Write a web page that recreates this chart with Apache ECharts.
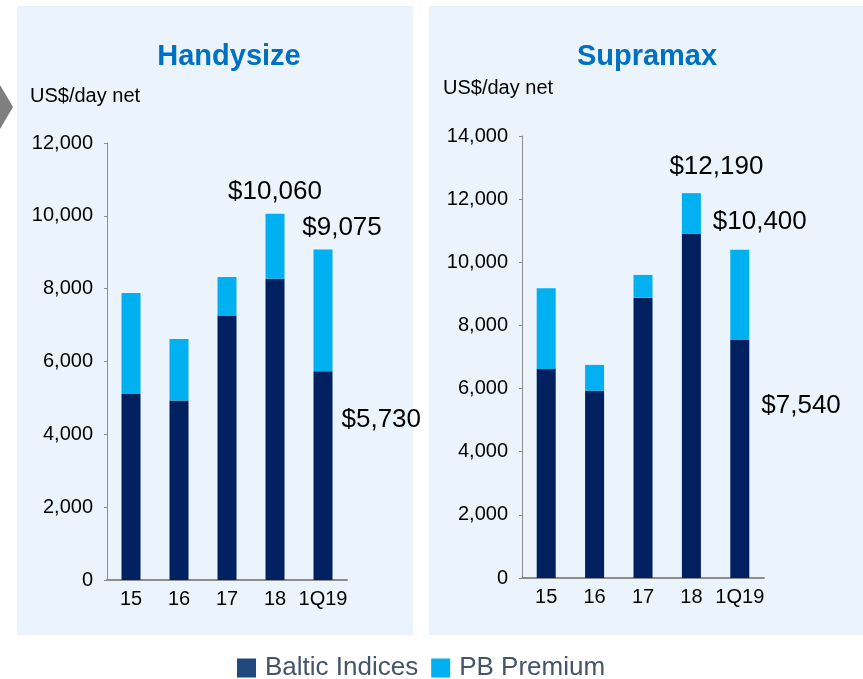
<!DOCTYPE html>
<html>
<head>
<meta charset="utf-8">
<script src="https://cdn.jsdelivr.net/npm/echarts@6/dist/echarts.min.js"></script>
<style>
    html, body { margin: 0; padding: 0; background: #fff; }
    #chart { width: 863px; height: 679px; }
</style>
</head>
<body>
<div id="chart"></div>
<script>
// values (US$/day net)
var categories = ['15', '16', '17', '18', '1Q19'];
var handyBaltic = [5110, 4930, 7250, 8270, 5730];
var handyPremium = [2770, 1690, 1070, 1790, 3345];
var handyTotal = [7880, 6620, 8320, 10060, 9075];
var supraBaltic = [6620, 5930, 8880, 10900, 7540];
var supraPremium = [2560, 820, 720, 1290, 2860];
var supraTotal = [9180, 6750, 9600, 12190, 10400];
var handyTicks = [0, 12000, 2000];
var supraTicks = [0, 14000, 2000];

var FONT = 'Liberation Sans, Arial, sans-serif';
var NAVY = '#002060';
var CYAN = '#00B0F0';

function money(v) {
    return '$' + v.toLocaleString('en-US');
}

// attach a value label to some bars of a series
function withLabels(values, labelled) {
    return values.map(function (v, i) {
        var cfg = labelled[i];
        if (!cfg) return v;
        return {
            value: v,
            label: Object.assign({
                show: true,
                formatter: cfg.text,
                fontSize: 26,
                color: '#000',
                fontFamily: FONT
            }, cfg.style)
        };
    });
}

function yAxis(idx, ticks, pad) {
    return {
        type: 'value',
        gridIndex: idx,
        min: ticks[0],
        max: ticks[1],
        interval: ticks[2],
        splitLine: { show: false },
        axisLine: { show: true, lineStyle: { color: '#8c8c8c', width: 1 } },
        axisTick: { show: true, length: 3, lineStyle: { color: '#8c8c8c' } },
        axisLabel: {
            fontSize: 20,
            color: '#000',
            fontFamily: FONT,
            margin: 14,
            padding: [0, 0, pad, 0],
            formatter: function (v) { return v.toLocaleString('en-US'); }
        }
    };
}

function xAxis(idx) {
    return {
        type: 'category',
        gridIndex: idx,
        data: categories,
        axisLine: { lineStyle: { color: '#8c8c8c', width: 2 } },
        axisTick: { show: false },
        axisLabel: { interval: 0, fontSize: 20, color: '#000', fontFamily: FONT, margin: 9 }
    };
}

var chart = echarts.init(document.getElementById('chart'));
chart.setOption({
    animation: false,
    backgroundColor: '#fff',
    graphic: [
        { type: 'rect', z: -10, shape: { x: 17, y: 6, width: 396, height: 629 }, style: { fill: '#EBF4FD' } },
        { type: 'rect', z: -10, shape: { x: 429, y: 6, width: 434, height: 629 }, style: { fill: '#EBF4FD' } },
        { type: 'polygon', z: -10, shape: { points: [[0, 85], [13, 107], [0, 129]] }, style: { fill: '#7f7f7f' } }
    ],
    title: [
        { text: 'Handysize', left: 229, top: 42, textAlign: 'center', padding: 0,
          textStyle: { fontSize: 29, fontWeight: 'bold', color: '#0070C0', fontFamily: FONT } },
        { text: 'Supramax', left: 647, top: 42, textAlign: 'center', padding: 0,
          textStyle: { fontSize: 29, fontWeight: 'bold', color: '#0070C0', fontFamily: FONT } },
        { text: 'US$/day net', left: 30, top: 86, padding: 0,
          textStyle: { fontSize: 20, fontWeight: 'normal', color: '#000', fontFamily: FONT } },
        { text: 'US$/day net', left: 443, top: 78, padding: 0,
          textStyle: { fontSize: 20, fontWeight: 'normal', color: '#000', fontFamily: FONT } }
    ],
    legend: {
        left: 237,
        top: 655,
        padding: 0,
        itemWidth: 19,
        itemHeight: 19,
        itemGap: 13,
        icon: 'rect',
        textStyle: { fontSize: 26, color: '#44546A', fontFamily: FONT, padding: [0, 0, 0, 4] },
        data: [
            { name: 'Baltic Indices', itemStyle: { color: '#1F497D' } },
            { name: 'PB Premium', itemStyle: { color: CYAN } }
        ]
    },
    grid: [
        { left: 107, top: 143, width: 240, height: 437 },
        { left: 522, top: 136, width: 242, height: 442 }
    ],
    xAxis: [xAxis(0), xAxis(1)],
    yAxis: [yAxis(0, handyTicks, 8), yAxis(1, supraTicks, 15)],
    series: [
        {
            name: 'Baltic Indices', type: 'bar', stack: 'h', xAxisIndex: 0, yAxisIndex: 0,
            barWidth: 19, itemStyle: { color: NAVY },
            data: withLabels(handyBaltic, {
                4: { text: money(handyBaltic[4]), style: { position: [28, 48], align: 'left', verticalAlign: 'middle' } }
            })
        },
        {
            name: 'PB Premium', type: 'bar', stack: 'h', xAxisIndex: 0, yAxisIndex: 0,
            barWidth: 19, itemStyle: { color: CYAN },
            data: withLabels(handyPremium, {
                3: { text: money(handyTotal[3]), style: { position: 'top', distance: 5, offset: [0, -4] } },
                4: { text: money(handyTotal[4]), style: { position: 'top', distance: 5, offset: [19, -4] } }
            })
        },
        {
            name: 'Baltic Indices', type: 'bar', stack: 's', xAxisIndex: 1, yAxisIndex: 1,
            barWidth: 19, itemStyle: { color: NAVY },
            data: withLabels(supraBaltic, {
                4: { text: money(supraBaltic[4]), style: { position: [31, 66], align: 'left', verticalAlign: 'middle' } }
            })
        },
        {
            name: 'PB Premium', type: 'bar', stack: 's', xAxisIndex: 1, yAxisIndex: 1,
            barWidth: 19, itemStyle: { color: CYAN },
            data: withLabels(supraPremium, {
                3: { text: money(supraTotal[3]), style: { position: 'top', distance: 5, offset: [25, -8] } },
                4: { text: money(supraTotal[4]), style: { position: 'top', distance: 5, offset: [20, -10] } }
            })
        }
    ]
});
</script>
</body>
</html>
